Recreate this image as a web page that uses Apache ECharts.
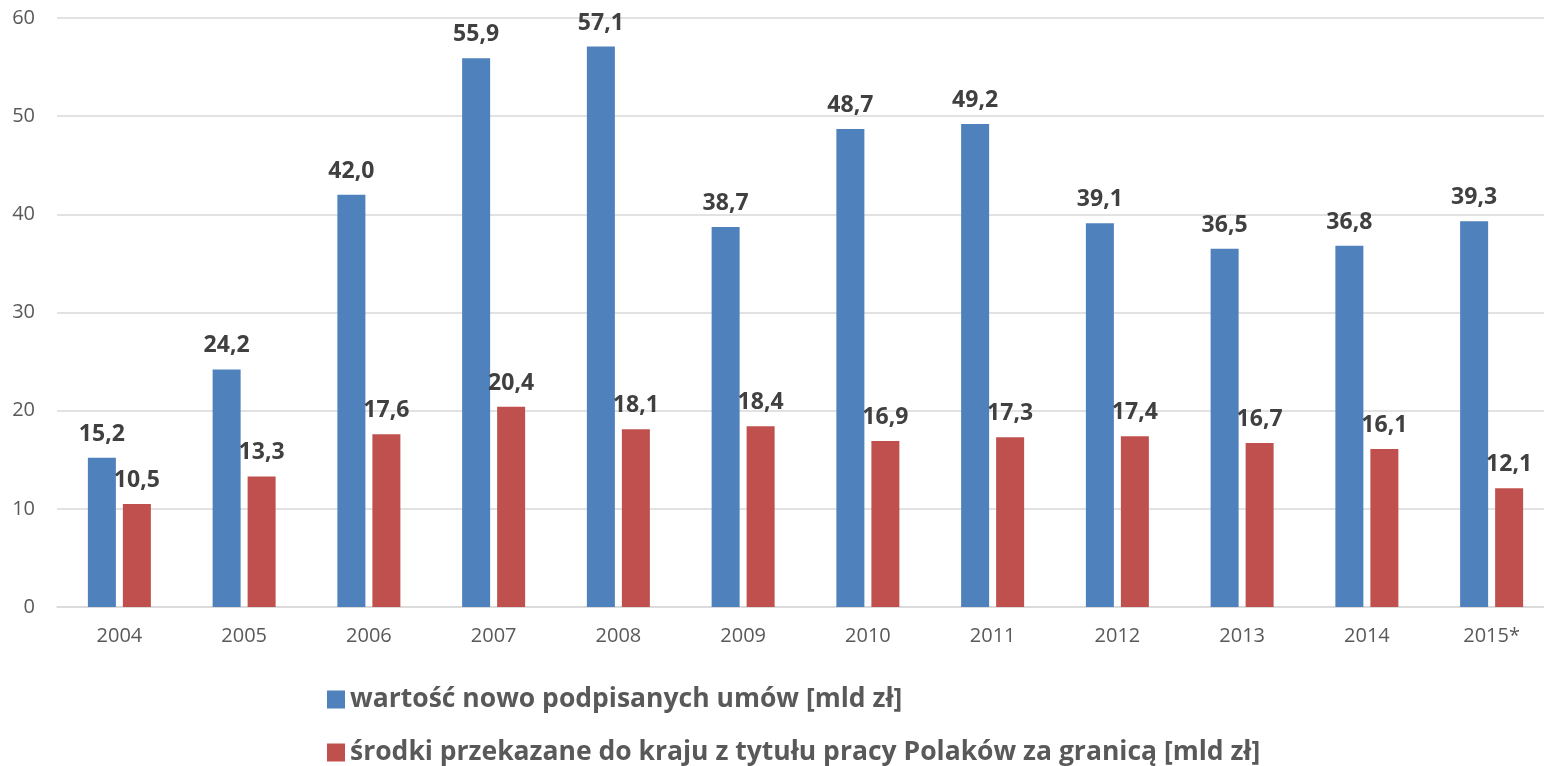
<!DOCTYPE html>
<html>
<head>
<meta charset="utf-8">
<script src="https://cdn.jsdelivr.net/npm/echarts@6/dist/echarts.min.js"></script>
<style>
html,body{margin:0;padding:0;background:#fff;overflow:hidden;}
#chart{width:1554px;height:766px;}
</style>
</head>
<body>
<div id="chart"></div>
<script>
const categories = ['2004','2005','2006','2007','2008','2009','2010','2011','2012','2013','2014','2015*'];
const seriesNames = ['wartość nowo podpisanych umów [mld zł]', 'środki przekazane do kraju z tytułu pracy Polaków za granicą [mld zł]'];
const contracts = [15.2, 24.2, 42.0, 55.9, 57.1, 38.7, 48.7, 49.2, 39.1, 36.5, 36.8, 39.3];
const remittances = [10.5, 13.3, 17.6, 20.4, 18.1, 18.4, 16.9, 17.3, 17.4, 16.7, 16.1, 12.1];
const yTicks = [0, 10, 20, 30, 40, 50, 60];

const FONT = '"Open Sans", "DejaVu Sans", sans-serif';
const fmt = v => v.toFixed(1).replace('.', ',');
const labelCfg = {
  show: true, position: 'top', distance: 12,
  formatter: p => fmt(p.value),
  color: '#404040', fontFamily: FONT, fontWeight: 'bold', fontSize: 23
};
const legendText = {color: '#595959', fontFamily: FONT, fontWeight: 'bold', fontSize: 26.5};

const chart = echarts.init(document.getElementById('chart'), null, {renderer: 'canvas'});
chart.setOption({
  animation: false,
  backgroundColor: '#ffffff',
  grid: {left: 57, right: 0, top: 18, height: 589, containLabel: false},
  legend: [
    {left: 322, top: 681, itemWidth: 18, itemHeight: 18, icon: 'rect',
     textStyle: legendText, data: [seriesNames[0]]},
    {left: 322, top: 734, itemWidth: 18, itemHeight: 18, icon: 'rect',
     textStyle: legendText, data: [seriesNames[1]]}
  ],
  xAxis: {
    type: 'category', data: categories,
    axisLine: {show: true, lineStyle: {color: '#d9d9d9', width: 1.5}},
    axisTick: {show: false},
    axisLabel: {color: '#595959', fontFamily: FONT, fontSize: 20, margin: 19}
  },
  yAxis: {
    type: 'value', min: yTicks[0], max: yTicks[yTicks.length - 1], interval: 10,
    axisLine: {show: false}, axisTick: {show: false},
    axisLabel: {color: '#595959', fontFamily: FONT, fontSize: 20, margin: 22},
    splitLine: {lineStyle: {color: '#d9d9d9', width: 1.5}}
  },
  series: [
    {name: seriesNames[0], type: 'bar', data: contracts, barWidth: 28, barGap: '25%',
     itemStyle: {color: '#4f81bd'}, label: labelCfg},
    {name: seriesNames[1], type: 'bar', data: remittances, barWidth: 28,
     itemStyle: {color: '#c0504d'}, label: labelCfg}
  ]
});
</script>
</body>
</html>
